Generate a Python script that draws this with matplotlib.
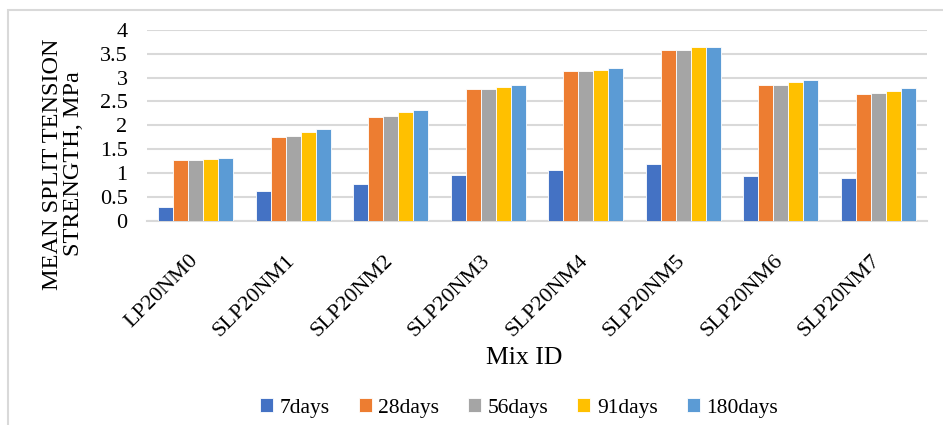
import matplotlib
matplotlib.use("Agg")
import matplotlib.pyplot as plt
import matplotlib.transforms as mtransforms
import numpy as np
from matplotlib.patches import Rectangle

categories = ["LP20NM0", "SLP20NM1", "SLP20NM2", "SLP20NM3", "SLP20NM4", "SLP20NM5", "SLP20NM6", "SLP20NM7"]
series_names = ["7days", "28days", "56days", "91days", "180days"]
d7 = [0.29, 0.61, 0.77, 0.95, 1.05, 1.19, 0.94, 0.89]
d28 = [1.26, 1.75, 2.17, 2.77, 3.13, 3.58, 2.84, 2.65]
d56 = [1.28, 1.78, 2.19, 2.76, 3.14, 3.57, 2.84, 2.67]
d91 = [1.30, 1.85, 2.27, 2.81, 3.17, 3.64, 2.90, 2.71]
d180 = [1.31, 1.92, 2.32, 2.84, 3.20, 3.64, 2.94, 2.78]
series = [d7, d28, d56, d91, d180]
colors = ["#4472C4", "#ED7D31", "#A5A5A5", "#FFC000", "#5B9BD5"]
yticks = [0, 0.5, 1, 1.5, 2, 2.5, 3, 3.5, 4]
ytick_labels = ["0", "0.5", "1", "1.5", "2", "2.5", "3", "3.5", "4"]

plt.rcParams['font.family'] = ['Liberation Serif', 'DejaVu Serif']
fs = 16
fs_title = 17.5

W, H = 943, 425
fig = plt.figure(figsize=(W/100, H/100), dpi=100)
ax = fig.add_axes([147/W, 1-220.5/H, 780/W, 190.5/H])

x = np.arange(len(categories))
bw = 0.154
for i, (vals, c, name) in enumerate(zip(series, colors, series_names)):
    ax.bar(x + (i-2)*bw, vals, width=bw, color=c, edgecolor='white', linewidth=0.6, label=name, zorder=3)

ax.set_xlim(-0.5, len(categories)-0.5)
ax.set_ylim(0, 4)
ax.set_yticks(yticks)
ax.set_yticklabels(ytick_labels, fontsize=fs)
ax.set_xticks(x)
ax.set_xticklabels(categories, rotation=45, ha='right', fontsize=fs, rotation_mode='default')
ax.tick_params(axis='y', length=0, pad=14)
ax.tick_params(axis='x', length=0, pad=22)
offset = mtransforms.ScaledTranslation(6/100, 0, fig.dpi_scale_trans)
for lbl in ax.get_xticklabels():
    lbl.set_transform(lbl.get_transform() + offset)
ax.grid(axis='y', color='#d9d9d9', linewidth=1.5, zorder=0)
for s in ['top', 'right', 'left']:
    ax.spines[s].set_visible(False)
ax.spines['bottom'].set_color('#d9d9d9')
ax.spines['bottom'].set_linewidth(1.5)

fig.text(524/W, 1-364/H, "Mix ID", ha='center', va='baseline', fontsize=18.5)
fig.text(63/W, 1-164/H, "MEAN SPLIT TENSION\nSTRENGTH, MPa", ha='center', va='center',
         rotation=90, fontsize=fs_title, linespacing=0.98, multialignment='center')

fig.legend(loc='center', bbox_to_anchor=(519/W, 1-408/H), ncol=5, frameon=False, fontsize=15.5,
           handlelength=0.6, handleheight=0.6, handletextpad=0.3, columnspacing=1.35)

fig.add_artist(Rectangle((8/W, -0.05), 1.0, 1-10/H+0.05, transform=fig.transFigure,
                         fill=False, edgecolor='#d9d9d9', linewidth=1.5))

fig.savefig("out.png", dpi=100)
